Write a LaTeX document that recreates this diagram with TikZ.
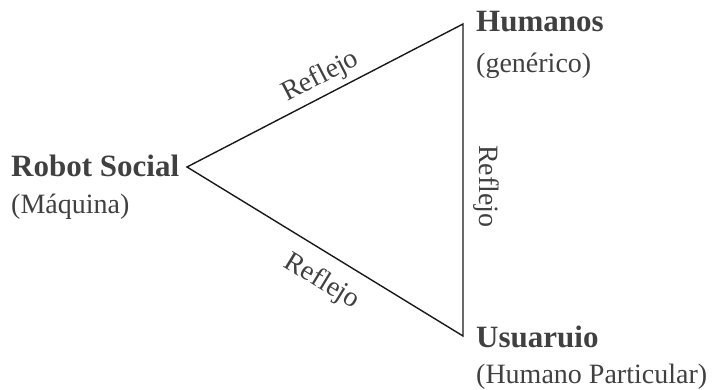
\documentclass[tikz,border=0pt]{standalone}
\usepackage{fontspec}
\setmainfont{Liberation Serif}
\definecolor{txt}{HTML}{404040}
\begin{document}
\begin{tikzpicture}[x=1pt,y=-1pt,
  lab/.style={text=txt, font=\fontsize{31}{36}\selectfont\bfseries, inner sep=0pt, anchor=base west},
  sub/.style={text=txt, font=\fontsize{28}{34}\selectfont, inner sep=0pt, anchor=base west},
  edge/.style={line width=1.4pt, draw=black!90, line join=miter},
  refl/.style={text=txt, font=\fontsize{28}{34}\selectfont, sloped, inner sep=0pt}]
\useasboundingbox (0,0) rectangle (714,390);
\coordinate (L) at (187,167);
\coordinate (T) at (463,24);
\coordinate (B) at (463,336);
\node[lab] (rs) at (11,176) {Robot Social};
\node[sub] (maq) at (11,213) {(Máquina)};
\node[lab] (hum) at (476,32) {Humanos};
\node[sub] (gen) at (476,73) {(genérico)};
\node[lab] (usu) at (476,347) {Usuaruio};
\node[sub] (hp) at (476,383) {(Humano Particular)};
\draw[edge] (L) -- node[refl, above=5pt, pos=0.515] (r1) {Reflejo}
            (T) -- node[refl, above=10pt, pos=0.52] (r2) {Reflejo}
            (B) -- node[refl, below=14pt, pos=0.46] (r3) {Reflejo} cycle;
\end{tikzpicture}
\end{document}
